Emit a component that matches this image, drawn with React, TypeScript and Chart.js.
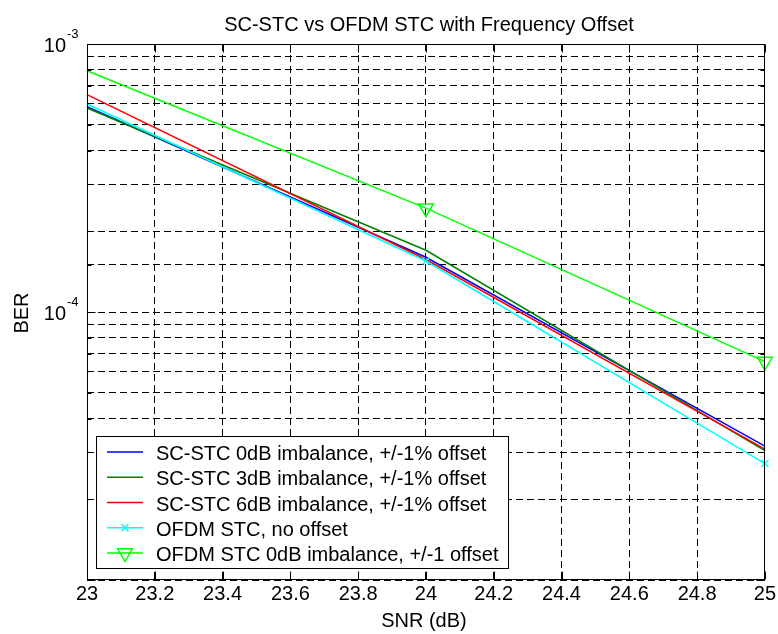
import React, { useEffect, useRef } from 'react';
import { Chart, registerables } from 'chart.js';

Chart.register(...registerables);

// ---- data ----
const snrDb = [23, 24, 25];
const berSc0dB = [5.83e-4, 1.6e-4, 3.16e-5];
const berSc3dB = [5.77e-4, 1.7e-4, 3.04e-5];
const berSc6dB = [6.47e-4, 1.57e-4, 3.08e-5];
const berOfdmNoOffset = [5.97e-4, 1.55e-4, 2.72e-5];
const berOfdmOffset = [7.95e-4, 2.44e-4, 6.53e-5];

const seriesLabels = [
  'SC-STC 0dB imbalance, +/-1% offset',
  'SC-STC 3dB imbalance, +/-1% offset',
  'SC-STC 6dB imbalance, +/-1% offset',
  'OFDM STC, no offset',
  'OFDM STC 0dB imbalance, +/-1 offset',
];
const seriesValues = [berSc0dB, berSc3dB, berSc6dB, berOfdmNoOffset, berOfdmOffset];
const seriesColors = ['#0000ff', '#008000', '#ff0000', '#00ffff', '#00ff00'];
const seriesMarkers = ['none', 'none', 'none', 'x', 'triangleDown'];

const xMin = 23;
const xMax = 25;
const xStep = 0.2;
const yMin = 1e-5;
const yMax = 1e-3;
const yLabelValues = [1e-3, 1e-4];
const yLabelExponents = ['-3', '-4'];

const titleText = 'SC-STC vs OFDM STC with Frequency Offset';
const xTitle = 'SNR (dB)';
const yTitle = 'BER';

const FONT = '"Liberation Sans", Arial, Helvetica, sans-serif';

function drawMarker(ctx: CanvasRenderingContext2D, kind: string, x: number, y: number, color: string) {
  ctx.save();
  ctx.strokeStyle = color;
  ctx.lineWidth = 1.5;
  ctx.setLineDash([]);
  if (kind === 'x') {
    const d = 3.5;
    ctx.beginPath();
    ctx.moveTo(x - d, y - d);
    ctx.lineTo(x + d, y + d);
    ctx.moveTo(x + d, y - d);
    ctx.lineTo(x - d, y + d);
    ctx.stroke();
  } else if (kind === 'triangleDown') {
    const r = 8.5;
    ctx.beginPath();
    ctx.moveTo(x - r * Math.sin(Math.PI / 3), y - r / 2);
    ctx.lineTo(x + r * Math.sin(Math.PI / 3), y - r / 2);
    ctx.lineTo(x, y + r);
    ctx.closePath();
    ctx.stroke();
  }
  ctx.restore();
}

const decorPlugin = {
  id: 'matlabDecor',
  beforeDraw(chart: any) {
    const { ctx, width, height } = chart;
    ctx.save();
    ctx.fillStyle = '#ffffff';
    ctx.fillRect(0, 0, width, height);
    ctx.restore();
  },
  afterDraw(chart: any) {
    const { ctx, chartArea: a } = chart;
    const xs = chart.scales.x;
    const ys = chart.scales.y;
    ctx.save();
    ctx.setLineDash([]);
    ctx.strokeStyle = '#000';
    ctx.lineWidth = 1;
    const L = Math.round(a.left) + 0.5;
    const R = Math.round(a.right) - 0.5;
    const T = Math.round(a.top) + 0.5;
    const B = Math.round(a.bottom) - 0.5;

    // inward ticks
    ctx.beginPath();
    xs.ticks.forEach((t: any) => {
      const px = Math.round(xs.getPixelForValue(t.value)) + 0.5;
      ctx.moveTo(px, B);
      ctx.lineTo(px, B - 8);
      ctx.moveTo(px, T);
      ctx.lineTo(px, T + 8);
    });
    ys.ticks.forEach((t: any) => {
      const lg = Math.log10(t.value);
      const major = Math.abs(lg - Math.round(lg)) < 1e-6;
      const len = major ? 8 : 4;
      const py = Math.round(ys.getPixelForValue(t.value)) + 0.5;
      ctx.moveTo(L, py);
      ctx.lineTo(L + len, py);
      ctx.moveTo(R, py);
      ctx.lineTo(R - len, py);
    });
    ctx.stroke();

    // axes box
    ctx.strokeRect(L, T, R - L, B - T);

    // y tick labels (10^n)
    ctx.fillStyle = '#000';
    yLabelValues.forEach((v, i) => {
      const py = ys.getPixelForValue(v);
      ctx.font = `20px ${FONT}`;
      ctx.textAlign = 'right';
      ctx.textBaseline = 'alphabetic';
      ctx.fillText('10', 66, py + 8);
      ctx.font = `13px ${FONT}`;
      ctx.textAlign = 'left';
      ctx.fillText(yLabelExponents[i], 67, py - 6);
    });

    // title
    ctx.font = `20px ${FONT}`;
    ctx.textAlign = 'center';
    ctx.textBaseline = 'alphabetic';
    ctx.fillText(titleText, 429, 31);

    // x title
    ctx.fillText(xTitle, (a.left + a.right) / 2 - 2, 627);

    // y title
    ctx.save();
    ctx.translate(28, (a.top + a.bottom) / 2 + 1);
    ctx.rotate(-Math.PI / 2);
    ctx.fillText(yTitle, 0, 0);
    ctx.restore();

    // legend
    const bx = 96.5, by = 436.5, bw = 412, bh = 132;
    ctx.fillStyle = '#fff';
    ctx.fillRect(bx, by, bw, bh);
    ctx.strokeStyle = '#000';
    ctx.lineWidth = 1;
    ctx.strokeRect(bx, by, bw, bh);
    seriesLabels.forEach((label, i) => {
      const ry = 452 + i * 25.25;
      ctx.strokeStyle = seriesColors[i];
      ctx.lineWidth = 1.5;
      ctx.beginPath();
      ctx.moveTo(107, ry);
      ctx.lineTo(143, ry);
      ctx.stroke();
      drawMarker(ctx, seriesMarkers[i], 125, ry, seriesColors[i]);
      ctx.fillStyle = '#000';
      ctx.font = `20px ${FONT}`;
      ctx.textAlign = 'left';
      ctx.textBaseline = 'alphabetic';
      ctx.fillText(label, 156, ry + 8);
    });
    ctx.restore();
  },
};

export default function App() {
  const ref = useRef<HTMLCanvasElement | null>(null);
  useEffect(() => {
    if (!ref.current) return;
    const datasets = seriesValues.map((vals, i) => ({
      label: seriesLabels[i],
      data: snrDb.map((x, j) => ({ x, y: vals[j] })),
      borderColor: seriesColors[i],
      backgroundColor: 'rgba(0,0,0,0)',
      borderWidth: 1.5,
      order: -i,
      clip: false,
      pointStyle: seriesMarkers[i] === 'x' ? 'crossRot' : 'triangle',
      rotation: seriesMarkers[i] === 'triangleDown' ? 180 : 0,
      pointRadius: (c: any) =>
        seriesMarkers[i] === 'none' || c.dataIndex === 0 ? 0 : seriesMarkers[i] === 'x' ? 5 : 8.5,
      pointBorderColor: seriesColors[i],
      pointBorderWidth: 1.5,
      pointBackgroundColor: 'rgba(0,0,0,0)',
      tension: 0,
    }));
    const chart = new Chart(ref.current, {
      type: 'line',
      data: { datasets },
      options: {
        animation: false,
        responsive: false,
        devicePixelRatio: 1,
        layout: { padding: { left: 0, right: 11, top: 44, bottom: 0 } },
        plugins: {
          legend: { display: false },
          title: { display: false },
          tooltip: { enabled: false },
        },
        scales: {
          x: {
            type: 'linear',
            min: xMin,
            max: xMax,
            afterFit: (s: any) => {
              s.height = 54;
            },
            ticks: {
              stepSize: xStep,
              autoSkip: false,
              maxRotation: 0,
              padding: 2,
              color: '#000',
              font: { family: FONT, size: 20 },
              callback: (v: any) => String(Math.round(Number(v) * 10) / 10),
            },
            grid: { color: '#000', lineWidth: 1, drawTicks: false },
            border: { display: false, dash: [7, 4] },
          },
          y: {
            type: 'logarithmic',
            min: yMin,
            max: yMax,
            afterFit: (s: any) => {
              s.width = 87;
            },
            ticks: { display: false, autoSkip: false },
            grid: { color: '#000', lineWidth: 1, drawTicks: false },
            border: { display: false, dash: [7, 4] },
          },
        },
      },
      plugins: [decorPlugin],
    });
    return () => chart.destroy();
  }, []);
  return (
    <div style={{ position: 'absolute', left: 0, top: 0, width: 778, height: 634, background: '#fff' }}>
      <canvas ref={ref} width={778} height={634} style={{ display: 'block' }} />
    </div>
  );
}
